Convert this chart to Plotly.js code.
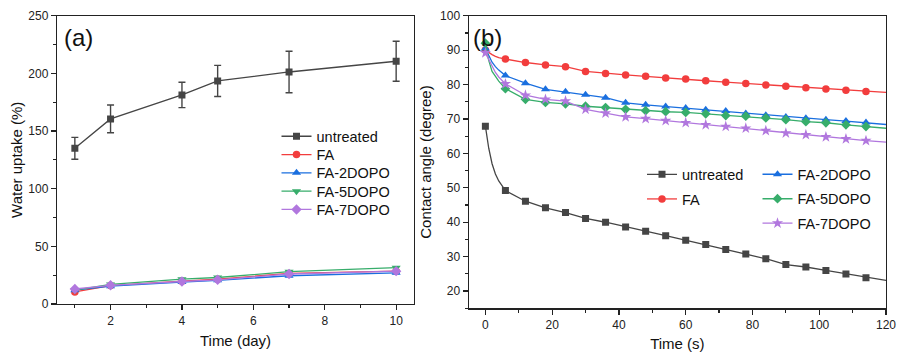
<!DOCTYPE html>
<html>
<head>
<meta charset="utf-8">
<script src="https://cdn.plot.ly/plotly-3.0.1.min.js"></script>
<style>html,body{margin:0;padding:0;background:#fff;}#chart{width:897px;height:352px;}</style>
</head>
<body>
<div id="chart"></div>
<script>
// ---------- Panel (a): water uptake ----------
const daysA = [1, 2, 4, 5, 7, 10];
const untreatedA = [135, 160.5, 181.3, 193.4, 201.2, 210.5];
const untreatedErrA = [9.5, 12, 11, 13.5, 18, 17.3];
const faA = [10.5, 16, 19.8, 21.5, 26.5, 28.5];
const fa2A = [12, 15.5, 19, 20.5, 24.5, 27];
const fa5A = [12, 17, 21.5, 23, 28, 31.5];
const fa7A = [13, 16.2, 19.5, 21, 26, 28.5];

// ---------- Panel (b): contact angle ----------
const timeB = [0, 1, 2, 3, 4, 6, 12, 18, 24, 30, 36, 42, 48, 54, 60, 66, 72, 78, 84, 90, 96, 102, 108, 114, 120];
const markTimesB = [0, 6, 12, 18, 24, 30, 36, 42, 48, 54, 60, 66, 72, 78, 84, 90, 96, 102, 108, 114];
const untreatedB = [67.9, 61.5, 57, 54, 52, 49.2, 46.1, 44.2, 42.8, 41.1, 40.0, 38.6, 37.4, 36.1, 34.8, 33.5, 32.1, 30.8, 29.4, 27.7, 27.0, 26.0, 25.0, 23.9, 23.1];
const faB = [90, 89.3, 88.7, 88.2, 87.8, 87.4, 86.4, 85.7, 85.2, 83.8, 83.2, 82.8, 82.4, 81.9, 81.6, 81.1, 80.7, 80.3, 79.9, 79.5, 79.1, 78.7, 78.35, 78.0, 77.7];
const fa2B = [90.5, 88.5, 86.5, 85.2, 84.2, 82.6, 80.4, 78.6, 77.9, 77.0, 76.2, 74.7, 74.1, 73.6, 73.2, 72.7, 72.3, 71.6, 71.1, 70.6, 70.2, 69.8, 69.4, 69.0, 68.4];
const fa5B = [92, 87, 83.8, 82.3, 81, 78.8, 75.7, 74.8, 74.4, 73.7, 73.3, 72.8, 72.4, 72.1, 71.9, 71.5, 71.0, 70.8, 70.3, 69.8, 69.2, 68.9, 68.3, 67.8, 67.3];
const fa7B = [89.2, 87.3, 85.2, 83.5, 82.2, 80.2, 76.9, 75.7, 75.2, 72.8, 71.7, 70.6, 70.1, 69.5, 68.9, 68.3, 67.8, 67.3, 66.6, 65.9, 65.4, 64.8, 64.2, 63.7, 63.3];

const seriesNames = ['untreated', 'FA', 'FA-2DOPO', 'FA-5DOPO', 'FA-7DOPO'];
const colors = ['#454545', '#f23d3d', '#1a6fdf', '#37ad6b', '#b177de'];
const symbolsA = ['square', 'circle', 'triangle-up', 'triangle-down', 'diamond'];
const symbolsB = ['square', 'circle', 'triangle-up', 'diamond', 'star'];
const sizesA = [7, 7.5, 8, 8, 8];
const sizesB = [7, 7.5, 8, 7.5, 8.5];

const FONT = 'Liberation Sans, Arial, sans-serif';
const LW = 1.3;
const W = 897, H = 352;
const traces = [];

// legend slot positions (pixels: left of legend box, centre of the item row)
const legendPosA = [[276.5, 135.3], [276.5, 153.6], [276.5, 171.9], [276.5, 190.2], [276.5, 208.5]];
const legendPosB = [[642, 173.4], [642, 198.0], [757.5, 173.3], [757.5, 197.8], [757.5, 222.2]];

// panel (a)
const seriesA = [untreatedA, faA, fa2A, fa5A, fa7A];
seriesA.forEach((ys, i) => {
  const t = {
    x: daysA, y: ys, type: 'scatter', mode: 'lines+markers', name: seriesNames[i],
    xaxis: 'x', yaxis: 'y', legend: i === 0 ? 'legend' : 'legend' + (i + 1),
    line: {color: colors[i], width: LW},
    marker: {symbol: symbolsA[i], size: sizesA[i], color: colors[i]}
  };
  if (i === 0) {
    t.error_y = {type: 'data', array: untreatedErrA, visible: true, color: colors[0], thickness: 1.4, width: 3.5};
  }
  traces.push(t);
});

// panel (b)
const seriesB = [untreatedB, faB, fa2B, fa5B, fa7B];
seriesB.forEach((ys, i) => {
  traces.push({
    x: timeB, y: ys, type: 'scatter', mode: 'lines', showlegend: false,
    xaxis: 'x2', yaxis: 'y2', line: {color: colors[i], width: LW}, hoverinfo: 'skip'
  });
  const mx = [], my = [];
  timeB.forEach((tt, k) => { if (markTimesB.includes(tt)) { mx.push(tt); my.push(ys[k]); } });
  traces.push({
    x: mx, y: my, type: 'scatter', mode: 'markers', showlegend: false,
    xaxis: 'x2', yaxis: 'y2',
    marker: {symbol: symbolsB[i], size: sizesB[i], color: colors[i]}
  });
});
seriesB.forEach((ys, i) => {
  traces.push({
    x: [null], y: [null], type: 'scatter', mode: 'lines+markers', name: seriesNames[i],
    xaxis: 'x2', yaxis: 'y2', legend: 'legend' + (i + 6),
    line: {color: colors[i], width: LW},
    marker: {symbol: symbolsB[i], size: sizesB[i], color: colors[i]}
  });
});

const axisCommon = {
  showgrid: false, zeroline: false, showline: true, mirror: true,
  linecolor: '#222', linewidth: 1.2,
  ticks: 'outside', ticklen: 5, tickwidth: 1.2, tickcolor: '#222',
  tickfont: {family: FONT, size: 12, color: '#222'},
  automargin: false
};
const titleFont = {family: FONT, size: 15, color: '#111'};
const legendCommon = {
  font: {family: FONT, size: 14.5, color: '#111'},
  bgcolor: 'rgba(0,0,0,0)', borderwidth: 0, xanchor: 'left', yanchor: 'top'
};
const minorTick = (d) => ({ticks: 'outside', ticklen: 3, tickwidth: 1.2, tickcolor: '#222', dtick: d, tick0: 0});

const layout = {
  width: W, height: H,
  margin: {l: 0, r: 0, t: 0, b: 0},
  paper_bgcolor: '#fff', plot_bgcolor: '#fff',
  font: {family: FONT},
  xaxis: Object.assign({}, axisCommon, {
    domain: [57 / W, 414 / W], range: [0.5, 10.5], dtick: 2, tick0: 0, minor: minorTick(1),
    anchor: 'y', title: {text: 'Time (day)', font: titleFont, standoff: 9}
  }),
  yaxis: Object.assign({}, axisCommon, {
    domain: [1 - 304 / H, 1 - 15.7 / H], range: [0, 250], dtick: 50, tick0: 0, minor: minorTick(25),
    anchor: 'x', title: {text: 'Water uptake (%)', font: titleFont, standoff: 2}
  }),
  xaxis2: Object.assign({}, axisCommon, {
    domain: [468.7 / W, 886 / W], range: [-5, 120], dtick: 20, tick0: 0, minor: minorTick(10),
    anchor: 'y2', title: {text: 'Time (s)', font: titleFont, standoff: 10}
  }),
  yaxis2: Object.assign({}, axisCommon, {
    domain: [1 - 308.3 / H, 1 - 15.7 / H], range: [15, 100], dtick: 10, tick0: 0, minor: minorTick(5),
    anchor: 'x2', title: {text: 'Contact angle (degree)', font: titleFont, standoff: 4}
  }),
  annotations: [
    {text: '(a)', xref: 'paper', yref: 'paper', x: 78 / W, y: 1 - 38 / H, xanchor: 'center', yanchor: 'middle',
     showarrow: false, font: {family: FONT, size: 24, color: '#111'}},
    {text: '(b)', xref: 'paper', yref: 'paper', x: 487 / W, y: 1 - 37 / H, xanchor: 'center', yanchor: 'middle',
     showarrow: false, font: {family: FONT, size: 24, color: '#111'}}
  ],
  showlegend: true
};
const ROW_OFFSET = 15;
legendPosA.forEach((p, i) => {
  const key = i === 0 ? 'legend' : 'legend' + (i + 1);
  layout[key] = Object.assign({}, legendCommon, {x: p[0] / W, y: 1 - (p[1] - ROW_OFFSET) / H});
});
legendPosB.forEach((p, i) => {
  layout['legend' + (i + 6)] = Object.assign({}, legendCommon, {x: p[0] / W, y: 1 - (p[1] - ROW_OFFSET) / H});
});

Plotly.newPlot('chart', traces, layout, {staticPlot: true, displayModeBar: false});
</script>
</body>
</html>
